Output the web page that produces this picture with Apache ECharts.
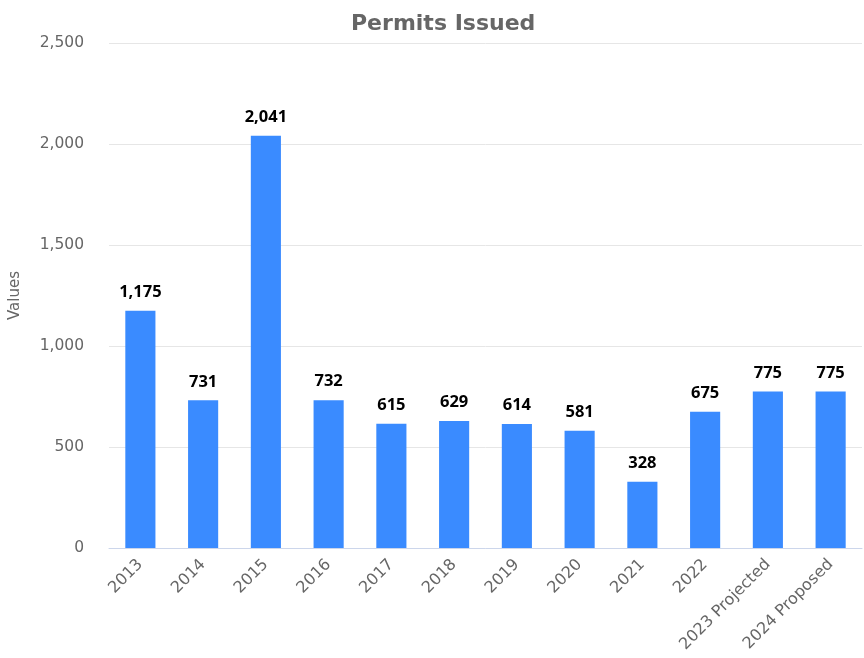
<!DOCTYPE html>
<html><head><meta charset="utf-8">
<script src="https://cdn.jsdelivr.net/npm/echarts@6/dist/echarts.min.js"></script>
<style>html,body{margin:0;padding:0;background:#fff}#c{width:864px;height:658px}</style>
</head><body><div id="c"></div>
<script>
const categories = ['2013','2014','2015','2016','2017','2018','2019','2020','2021','2022','2023 Projected','2024 Proposed'];
const permits = [1175, 731, 2041, 732, 615, 629, 614, 581, 328, 675, 775, 775];
const yTicks = {min: 0, max: 2500, interval: 500};
const FONT = '"DejaVu Sans", sans-serif';
const chart = echarts.init(document.getElementById('c'), null, {renderer: 'canvas'});
chart.setOption({
  animation: false,
  title: {text: 'Permits Issued', left: 346, top: 8,
    textStyle: {fontFamily: FONT, fontSize: 22, fontWeight: 'bold', color: '#666666'}},
  grid: {left: 107, right: 2, top: 43, bottom: 110},
  xAxis: {type: 'category', data: categories,
    axisLine: {lineStyle: {color: '#ccd6eb'}}, axisTick: {show: false},
    axisLabel: {rotate: 45, color: '#666666', fontFamily: FONT, fontSize: 16, margin: 14, interval: 0}},
  yAxis: {type: 'value', min: yTicks.min, max: yTicks.max, interval: yTicks.interval,
    name: 'Values', nameLocation: 'middle', nameGap: 86,
    nameTextStyle: {color: '#666666', fontFamily: FONT, fontSize: 15},
    axisLabel: {color: '#666666', fontFamily: FONT, fontSize: 15.5, margin: 25,
      formatter: v => v.toLocaleString('en-US')},
    splitLine: {lineStyle: {color: '#e6e6e6'}}},
  series: [{type: 'bar', data: permits, barWidth: '48%',
    itemStyle: {color: '#3a8bff'},
    label: {show: true, position: 'top', distance: 10, color: '#000', fontFamily: '"Open Sans", sans-serif',
      fontSize: 16.5, fontWeight: 'bold', formatter: p => p.value.toLocaleString('en-US')}}]
});
</script></body></html>
